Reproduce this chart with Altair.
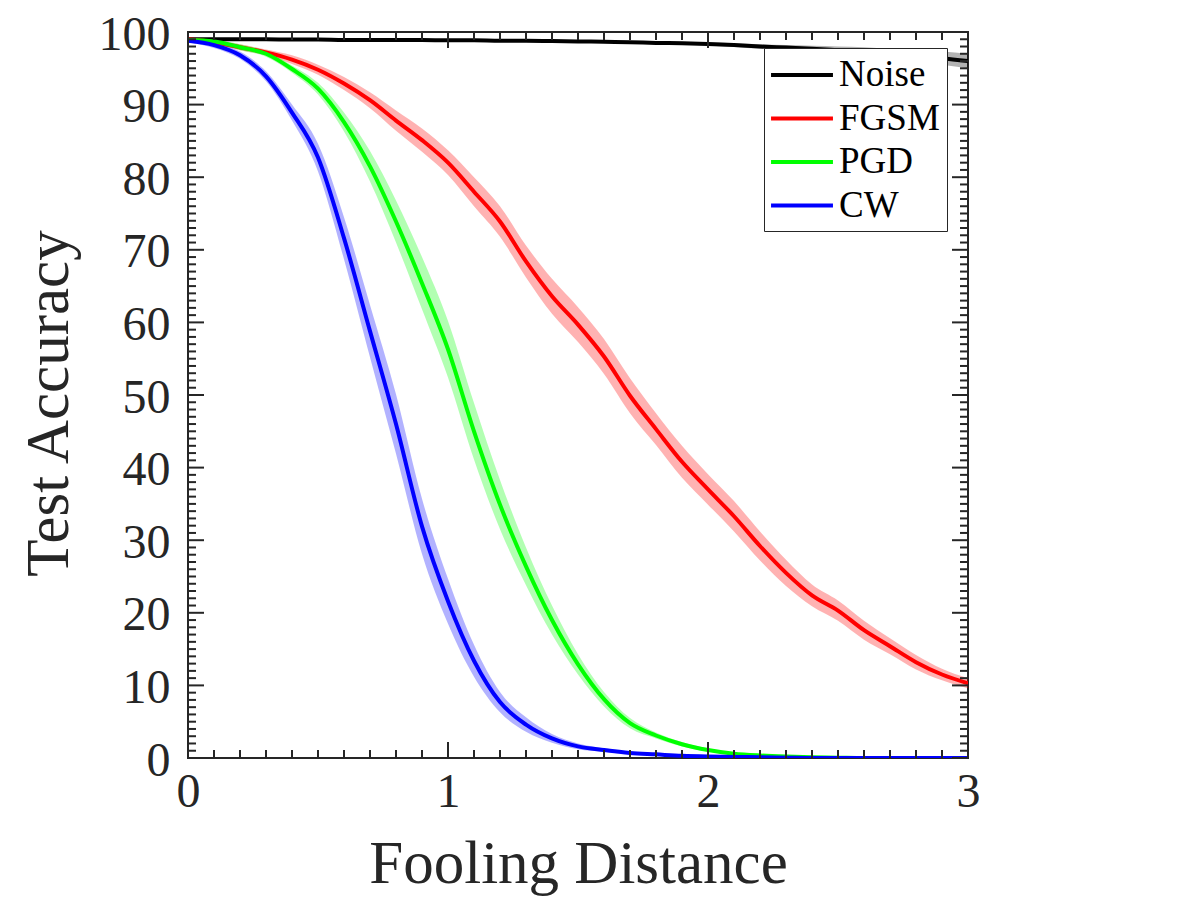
import altair as alt
import pandas as pd

# ---------------- data ----------------
dist = [0.0, 0.1, 0.2, 0.3, 0.4, 0.5, 0.6, 0.7, 0.8, 0.9, 1.0,
        1.1, 1.2, 1.3, 1.4, 1.5, 1.6, 1.7, 1.8, 1.9, 2.0,
        2.1, 2.2, 2.3, 2.4, 2.5, 2.6, 2.7, 2.8, 2.9, 3.0]

noise = [99.0, 99.0, 99.0, 99.0, 98.95, 98.95, 98.9, 98.9, 98.9, 98.9, 98.85,
         98.85, 98.8, 98.8, 98.75, 98.7, 98.65, 98.6, 98.5, 98.45, 98.35,
         98.2, 98.0, 97.85, 97.7, 97.5, 97.3, 97.0, 96.7, 96.4, 96.0]
fgsm = [99.0, 98.6, 97.9, 97.2, 96.2, 94.8, 92.9, 90.6, 87.8, 85.1, 82.0,
        78.0, 73.9, 68.4, 63.6, 59.7, 55.3, 49.9, 45.3, 40.8, 37.0,
        33.3, 29.2, 25.5, 22.4, 20.3, 17.6, 15.4, 13.2, 11.5, 10.3]
pgd = [98.9, 98.7, 97.9, 97.0, 94.9, 92.2, 87.6, 81.5, 73.9, 65.4, 56.3,
       45.0, 34.9, 26.4, 19.0, 12.9, 8.1, 4.8, 3.1, 1.9, 1.1,
       0.6, 0.35, 0.2, 0.1, 0.05, 0.0, 0.0, 0.0, 0.0, 0.0]
cw = [98.8, 98.2, 96.8, 93.9, 88.9, 82.7, 71.6, 58.8, 46.0, 31.9, 21.6,
      13.4, 7.7, 4.6, 2.7, 1.6, 1.1, 0.7, 0.5, 0.3, 0.2,
      0.15, 0.1, 0.05, 0.0, 0.0, 0.0, 0.0, 0.0, 0.0, 0.0]

# half width of the shaded band around each curve
noise_sd = [0.1, 0.1, 0.1, 0.1, 0.1, 0.1, 0.1, 0.1, 0.1, 0.1, 0.1,
            0.1, 0.1, 0.1, 0.1, 0.1, 0.1, 0.15, 0.15, 0.2, 0.2,
            0.25, 0.3, 0.35, 0.4, 0.5, 0.6, 0.7, 0.8, 0.9, 1.0]
fgsm_sd = [0.3, 0.3, 0.4, 0.4, 0.6, 0.7, 0.9, 1.1, 1.4, 1.6, 1.7,
           2.0, 2.1, 2.2, 2.4, 2.4, 2.4, 2.4, 2.2, 2.2, 2.1,
           2.1, 2.0, 1.8, 1.5, 1.4, 1.3, 1.1, 1.0, 0.8, 0.7]
pgd_sd = [0.3, 0.3, 0.4, 0.4, 0.5, 0.8, 1.3, 2.1, 2.9, 3.6, 3.9,
          3.9, 3.4, 2.6, 2.0, 1.4, 1.0, 0.7, 0.4, 0.3, 0.2,
          0.1, 0.1, 0.05, 0.05, 0.0, 0.0, 0.0, 0.0, 0.0, 0.0]
cw_sd = [0.2, 0.4, 0.5, 0.7, 1.1, 1.9, 2.9, 3.6, 4.1, 3.8, 3.1,
         2.2, 1.4, 1.0, 0.6, 0.4, 0.25, 0.2, 0.1, 0.1, 0.05,
         0.05, 0.0, 0.0, 0.0, 0.0, 0.0, 0.0, 0.0, 0.0, 0.0]

series_names = ["Noise", "FGSM", "PGD", "CW"]
line_colors = ["#000000", "#ff0000", "#00ff00", "#0000ff"]

x_major = [0, 1, 2, 3]
y_major = [0, 10, 20, 30, 40, 50, 60, 70, 80, 90, 100]

# ---------------- tables ----------------
rows = []
for name, ys, sds in zip(series_names, [noise, fgsm, pgd, cw],
                         [noise_sd, fgsm_sd, pgd_sd, cw_sd]):
    for xv, yv, sv in zip(dist, ys, sds):
        rows.append({"series": name, "x": xv, "y": yv,
                     "lo": max(yv - sv, 0.0), "hi": min(yv + sv, 100.0)})
df = pd.DataFrame(rows)

W, H = 780, 726
XMAX, YMAX = 3.0, 100.0
px_x = XMAX / W
px_y = YMAX / H
MAJ, MIN = 16, 8
AX = "#262626"
FONT = "Liberation Serif"

x_minor = [round(i * 0.1, 1) for i in range(31) if i % 10 != 0]
y_minor = [i for i in range(101) if i % 10 != 0]

bt_rows = [{"p": v, "y0": 0.0, "y1": MAJ * px_y, "t0": YMAX, "t1": YMAX - MAJ * px_y} for v in x_major] + \
          [{"p": v, "y0": 0.0, "y1": MIN * px_y, "t0": YMAX, "t1": YMAX - MIN * px_y} for v in x_minor]
lt_rows = [{"p": v, "x0": 0.0, "x1": MAJ * px_x, "r0": XMAX, "r1": XMAX - MAJ * px_x} for v in y_major] + \
          [{"p": v, "x0": 0.0, "x1": MIN * px_x, "r0": XMAX, "r1": XMAX - MIN * px_x} for v in y_minor]
bt = pd.DataFrame(bt_rows)
lt = pd.DataFrame(lt_rows)

xscale = alt.Scale(domain=[0, XMAX], nice=False, zero=False)
yscale = alt.Scale(domain=[0, YMAX], nice=False, zero=False)

x_axis = alt.Axis(values=x_major, format="d", ticks=False, domain=False, grid=False,
                  labelFlush=False, labelOverlap=False, labelPadding=10,
                  title="Fooling Distance", titleX=W / 2, titleY=124,
                  titleBaseline="alphabetic", titleAlign="center")
y_axis = alt.Axis(values=y_major, format="d", ticks=False, domain=False, grid=False,
                  labelFlush=False, labelOverlap=False, labelPadding=18, labelOffset=3,
                  title="Test Accuracy", titleX=-121, titleY=371,
                  titleBaseline="alphabetic", titleAlign="center", titleAngle=270)

color_scale = alt.Scale(domain=series_names, range=line_colors)

X = lambda f: alt.X(f, scale=xscale, axis=x_axis)
Y = lambda f: alt.Y(f, scale=yscale, axis=y_axis)

band_layers = [
    alt.Chart(df).transform_filter(alt.datum.series == n)
    .mark_area(color=c, opacity=0.3, clip=True, interpolate="monotone")
    .encode(x=X("x:Q"), y=Y("lo:Q"), y2="hi:Q")
    for n, c in zip(series_names, line_colors)
]

lines = alt.Chart(df).mark_line(strokeWidth=4, clip=True, interpolate="monotone").encode(
    x=X("x:Q"),
    y=Y("y:Q"),
    stroke=alt.Stroke(
        "series:N", scale=color_scale, sort=series_names,
        legend=alt.Legend(
            orient="none", legendX=576, legendY=16, title=None,
            symbolType="M-1.72,0H1.72", symbolSize=1296, symbolStrokeWidth=4,
            symbolOffset=11, labelOffset=17, rowPadding=5.5, padding=7,
            strokeColor=AX, fillColor="white",
        ),
    ),
)

tick_style = dict(color=AX, strokeWidth=2)
bottom_ticks = alt.Chart(bt).mark_rule(**tick_style).encode(x=X("p:Q"), y=Y("y0:Q"), y2="y1:Q")
top_ticks = alt.Chart(bt).mark_rule(**tick_style).encode(x=X("p:Q"), y=Y("t0:Q"), y2="t1:Q")
left_ticks = alt.Chart(lt).mark_rule(**tick_style).encode(y=Y("p:Q"), x=X("x0:Q"), x2="x1:Q")
right_ticks = alt.Chart(lt).mark_rule(**tick_style).encode(y=Y("p:Q"), x=X("r0:Q"), x2="r1:Q")

chart = alt.layer(*band_layers, lines, bottom_ticks, top_ticks, left_ticks, right_ticks).properties(
    width=W, height=H,
    padding={"left": 180, "top": 24, "right": 200, "bottom": 140},
    autosize=alt.AutoSizeParams(type="none"),
    background="white",
).configure_view(stroke=AX, strokeWidth=2).configure_axis(
    labelFont=FONT, labelFontSize=48, labelColor=AX,
    titleFont=FONT, titleFontSize=61, titleFontWeight="normal", titleColor=AX,
).configure_legend(labelFont=FONT, labelFontSize=37, labelColor="#000000")

chart.save("out.html", embed_options={"renderer": "svg", "actions": False})
